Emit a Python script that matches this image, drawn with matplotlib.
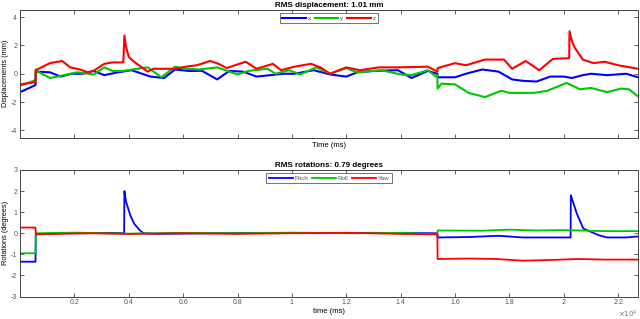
import matplotlib
matplotlib.use("Agg")
import matplotlib.pyplot as plt
from matplotlib.ticker import FuncFormatter

plt.rcParams['font.family'] = ['Liberation Sans', 'DejaVu Sans']
plt.rcParams['axes.unicode_minus'] = False

# Displacements (mm), time in ms
x_t = [0, 570, 580, 1100, 1500, 1900, 2300, 2700, 3100, 3600, 4100, 4800, 5300, 5700, 6200, 6700,
       7250, 7700, 8200, 8700, 9200, 9700, 10100, 10800, 11400, 12000, 12400, 13000, 13900, 14400,
       15000, 15350, 15360, 16000, 16400, 17000, 17600, 18100, 18500, 19000, 19500, 20000, 20300,
       20700, 21000, 21600, 22300, 22730]
x_v = [-1.3, -0.8, 0.15, 0.1, -0.2, 0.0, 0.0, 0.2, -0.1, 0.1, 0.25, -0.2, -0.3, 0.3, 0.2, 0.2,
       -0.4, 0.2, 0.15, -0.2, -0.1, 0.0, 0.0, 0.25, -0.05, -0.2, 0.1, 0.2, 0.25, -0.3,
       0.2, 0.0, -0.25, -0.25, 0.0, 0.3, 0.15, -0.4, -0.5, -0.55, -0.2, -0.2, -0.3,
       -0.1, 0.0, -0.1, 0.0, -0.25]

y_t = [0, 500, 570, 580, 700, 1100, 1500, 2100, 2700, 3100, 3400, 3800, 4300, 4700, 5200, 5700,
       6100, 6600, 7250, 8000, 8400, 9100, 9400, 9900, 10300, 10900, 11400, 12000, 12400, 13300,
       14000, 14400, 15000, 15300, 15350, 15360, 15500, 16000, 16500, 17100, 17700, 18000, 18900,
       19400, 20100, 20600, 21000, 21600, 22100, 22400, 22730]
y_v = [-0.85, -0.5, -0.45, 0.3, 0.1, -0.3, -0.15, 0.1, -0.05, 0.45, 0.2, 0.2, 0.35, 0.45, -0.25, 0.5,
       0.35, 0.3, 0.45, -0.05, 0.2, 0.35, 0.0, 0.25, -0.05, 0.45, 0.0, 0.4, 0.1, 0.25,
       -0.05, -0.1, 0.25, -0.2, -0.1, -1.05, -0.7, -0.75, -1.35, -1.65, -1.2, -1.35, -1.35,
       -1.2, -0.65, -1.1, -1.0, -1.3, -1.05, -1.1, -1.6]

z_t = [0, 570, 580, 1100, 1550, 1850, 2200, 2500, 2700, 3100, 3400, 3800, 3840, 3900, 4000, 4100,
       4300, 4700, 4900, 5700, 6100, 6500, 7000, 7300, 7600, 8300, 8700, 9300, 9600, 10100,
       10700, 11050, 11400, 12000, 12500, 13200, 13900, 15000, 15350, 15360, 16000, 16400, 17100,
       17800, 18100, 18600, 19100, 19600, 20200, 20210, 20300, 20400, 20700, 21100, 21500, 22000,
       22730]
z_v = [-0.75, -0.6, 0.25, 0.75, 0.9, 0.45, 0.3, 0.1, 0.2, 0.7, 0.8, 0.8, 2.7, 1.9, 1.2, 1.0,
       0.7, 0.15, 0.35, 0.35, 0.5, 0.6, 0.9, 0.7, 0.4, 0.85, 0.35, 0.7, 0.25, 0.5,
       0.7, 0.45, 0.0, 0.45, 0.25, 0.45, 0.45, 0.5, 0.15, 0.4, 0.75, 0.6, 1.0,
       1.0, 0.35, 0.9, 0.25, 1.05, 1.1, 3.0, 2.3, 1.85, 1.0, 0.75, 0.85, 0.6,
       0.35]

# Rotations (degrees)
pitch_t = [0, 570, 580, 1500, 2500, 3200, 3830, 3840, 3900, 4060, 4200, 4400, 4550, 5000, 7000,
           9000, 11000, 13000, 15350, 15360, 16500, 17600, 18500, 20250, 20260, 20480, 20720,
           21300, 21600, 22300, 22730]
pitch_v = [-1.35, -1.35, -0.05, 0.0, 0.0, 0.02, 0.0, 2.0, 1.5, 0.84, 0.45, 0.15, 0.0, -0.03, 0.0,
           0.02, 0.0, 0.02, 0.0, -0.2, -0.18, -0.12, -0.2, -0.2, 1.8, 0.93, 0.22,
           -0.1, -0.2, -0.2, -0.15]

roll_t = [0, 570, 580, 2000, 4000, 6000, 8000, 10000, 12000, 14000, 15350, 15360, 17000, 18000,
          19000, 20000, 21500, 22730]
roll_v = [-0.95, -0.95, 0.0, 0.03, -0.02, 0.02, 0.0, 0.03, 0.0, 0.02, -0.05, 0.13, 0.12, 0.17,
          0.13, 0.15, 0.1, 0.1]

yaw_t = [0, 570, 580, 2500, 4000, 6000, 8000, 10000, 12000, 14000, 15350, 15360, 16500, 17500,
         18500, 19500, 20500, 21500, 22730]
yaw_v = [0.27, 0.27, -0.05, 0.0, -0.03, 0.0, -0.03, 0.0, 0.02, -0.03, -0.05, -1.22, -1.2, -1.22,
         -1.3, -1.27, -1.22, -1.25, -1.25]

xticks = [2000, 4000, 6000, 8000, 10000, 12000, 14000, 16000, 18000, 20000, 22000]

BLUE, GREEN, RED = '#0000ff', '#00c800', '#ff0000'
GREY = '#444444'

fig = plt.figure(figsize=(6.4, 3.19), dpi=100)
ax1 = fig.add_axes([20/640, 1-137.5/319, 618/640, 127.5/319])
ax2 = fig.add_axes([20/640, 1-296.5/319, 618/640, 126.5/319])

ax1.plot(x_t, x_v, c=BLUE, lw=1.5, label='x')
ax1.plot(y_t, y_v, c=GREEN, lw=1.5, label='y')
ax1.plot(z_t, z_v, c=RED, lw=1.5, label='z')
ax1.set_ylim(-4.5, 4.5)
ax1.set_yticks([-4, -2, 0, 2, 4])
ax1.set_title('RMS displacement: 1.01 mm', fontsize=5.8, fontweight='bold', pad=2)
ax1.set_ylabel('Displacements (mm)', fontsize=5.3)
ax1.set_xlabel('Time (ms)', fontsize=5.5, labelpad=3)
ax1.tick_params(labelbottom=False)

ax2.plot(pitch_t, pitch_v, c=BLUE, lw=1.3, label='Pitch')
ax2.plot(roll_t, roll_v, c=GREEN, lw=1.3, label='Roll')
ax2.plot(yaw_t, yaw_v, c=RED, lw=1.3, label='Yaw')
ax2.set_ylim(-3, 3)
ax2.set_yticks([-3, -2, -1, 0, 1, 2, 3])
ax2.set_title('RMS rotations: 0.79 degrees', fontsize=5.8, fontweight='bold', pad=2)
ax2.set_ylabel('Rotations (degrees)', fontsize=5.3)
ax2.set_xlabel('time (ms)', fontsize=5.5, labelpad=1)
ax2.xaxis.set_major_formatter(FuncFormatter(lambda v, p: f'{v/1e4:g}'))
ax2.text(1.0, -0.1, r'$\times10^4$', transform=ax2.transAxes, fontsize=5,
         color='#777777', ha='right', va='top')

for ax in (ax1, ax2):
    ax.set_xlim(0, 22730)
    ax.set_xticks(xticks)
    ax.yaxis.set_label_coords(-0.017, 0.5)
    ax.tick_params(direction='in', top=True, right=True, length=3, width=0.6,
                   labelsize=5, colors=GREY, labelcolor='#555555', pad=2)
    for s in ax.spines.values():
        s.set_color(GREY)
        s.set_linewidth(0.7)
    leg = ax.legend(loc='upper center', ncol=3, fontsize=4.5, frameon=True, fancybox=False,
                    borderpad=0.4, handlelength=3.8, handletextpad=0.3, columnspacing=0.6,
                    borderaxespad=0.45, labelcolor='#555555')
    leg.get_frame().set_edgecolor('#333333')
    leg.get_frame().set_linewidth(0.6)

fig.savefig('out.png', dpi=100)
